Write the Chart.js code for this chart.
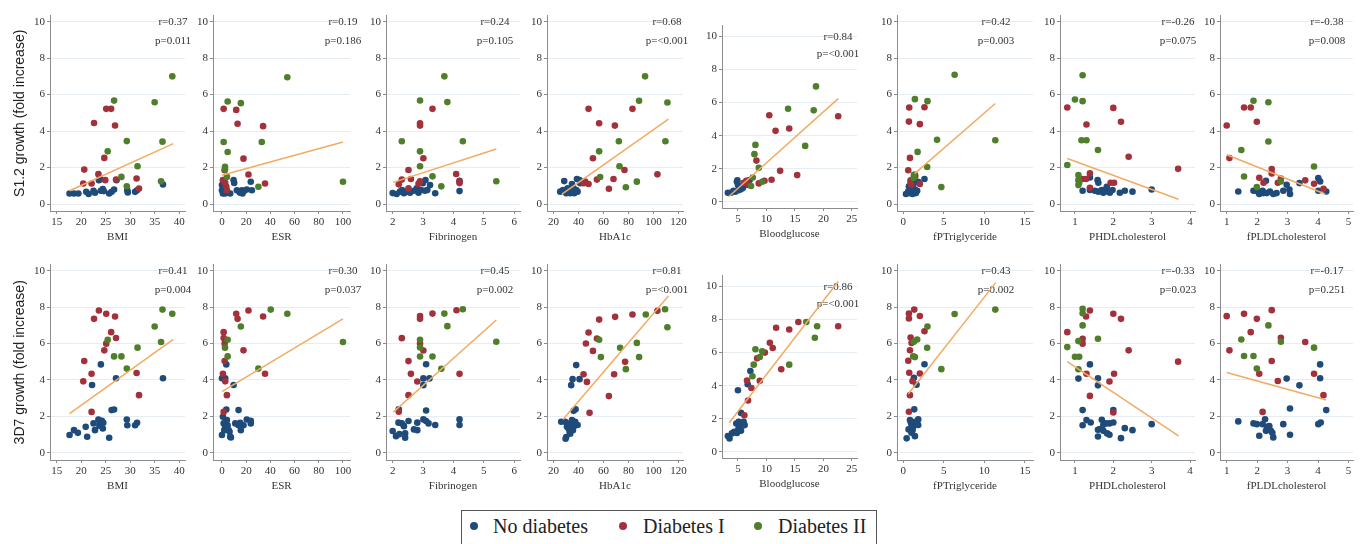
<!DOCTYPE html>
<html>
<head>
<meta charset="utf-8">
<script src="https://cdn.jsdelivr.net/npm/chart.js@4.4.0/dist/chart.umd.min.js"></script>
<style>
  body { margin: 0; background: #fff; width: 1361px; height: 544px; position: relative; overflow: hidden; }
  canvas { position: absolute; }
  #legend { position: absolute; left: 461px; top: 510px; width: 416px; height: 44px; border: 1px solid #555; box-sizing: border-box; }
  #legend .dot { position: absolute; top: 11px; width: 8px; height: 8px; border-radius: 50%; }
  #legend .lbl { position: absolute; top: 0; line-height: 30px; font-family: "Liberation Serif", serif; font-size: 20px; color: #222; white-space: nowrap; }
</style>
</head>
<body>
<div id="legend"></div>
<script>
const groups = ['No diabetes', 'Diabetes I', 'Diabetes II'];
const groupColors = ['#1f4b7a', '#a3313c', '#4f7f2a'];
const variables = ['BMI', 'ESR', 'Fibrinogen', 'HbA1c', 'Bloodglucose', 'fPTriglyceride', 'PHDLcholesterol', 'fPLDLcholesterol'];
const rowTitles = ['S1.2 growth (fold increase)', '3D7 growth (fold increase)'];
const yTicks = [0, 2, 4, 6, 8, 10];
const xTicks = [
  [15, 20, 25, 30, 35, 40],
  [0, 20, 40, 60, 80, 100],
  [2, 3, 4, 5, 6],
  [20, 40, 60, 80, 100, 120],
  [5, 10, 15, 20, 25],
  [0, 5, 10, 15],
  [1, 2, 3, 4],
  [1, 2, 3, 4, 5]
];

// S1.2 growth, each panel: [no diabetes, diabetes I, diabetes II] as [x, y]
const s12BMI = [
  [[17.6,0.58],[18.5,0.58],[19.4,0.58],[21.0,0.67],[21.5,0.55],[22.5,0.73],[22.8,0.62],[23.6,1.31],[23.9,1.36],[24.0,0.73],[24.4,0.82],[24.6,0.71],[25.7,0.58],[26.2,0.67],[26.7,0.8],[27.2,1.31],[29.4,0.76],[29.5,0.64],[31.0,0.67],[31.4,0.76],[36.7,1.07]],
  [[25.1,5.22],[26.1,5.22],[22.6,4.44],[26.9,4.31],[24.7,2.53],[20.6,1.89],[23.5,1.64],[24.9,1.31],[27.1,1.35],[20.4,1.13],[22.1,1.13],[31.3,1.4],[31.8,0.85]],
  [[38.6,7.0],[26.7,5.67],[35.0,5.58],[29.3,3.45],[36.6,3.42],[25.4,2.89],[31.5,2.07],[28.2,1.49],[29.3,0.98],[36.3,1.25]]
];
const s12ESR = [
  [[0,1.04],[0.8,0.58],[2.7,0.58],[4.7,0.62],[6.8,0.58],[9.6,1.31],[10.1,1.16],[12.3,0.76],[14.5,0.67],[16.4,0.76],[18.4,0.73],[20.5,0.8],[24.7,0.76],[23.8,1.22],[0,0.76],[1.4,0.95],[15,0.62],[17,0.58]],
  [[1.4,5.22],[11.8,5.16],[12.9,4.4],[34,4.27],[17.8,2.49],[2.2,1.85],[21.9,1.62],[0.8,1.31],[2.7,1.16],[3.6,0.95],[35.6,1.13],[4.1,0.76]],
  [[54,6.95],[4.7,5.62],[15.6,5.53],[1.4,3.4],[32.9,3.4],[4.7,2.85],[2.5,2.04],[4.1,1.49],[30.1,0.95],[100,1.22],[2.5,1.9]]
];
const s12Fib = [
  [[2.0,0.6],[2.13,0.55],[2.24,0.68],[2.37,0.59],[2.46,0.68],[2.7,0.73],[2.85,0.62],[2.93,0.77],[2.99,1.14],[3.08,1.32],[3.14,0.77],[3.23,1.04],[3.4,0.59],[4.2,1.28],[4.2,0.71],[2.79,0.86],[2.57,0.62],[2.31,0.77],[3.06,0.73]],
  [[3.31,5.22],[2.9,4.43],[2.9,4.3],[3.01,2.51],[2.52,1.87],[2.3,1.34],[2.6,1.37],[2.85,1.12],[2.9,1.25],[2.2,1.08],[4.09,1.65],[4.2,1.15],[4.2,1.23],[2.52,0.86]],
  [[3.7,7.0],[3.8,5.59],[2.9,5.68],[2.3,3.44],[4.31,3.44],[2.9,2.89],[2.9,2.07],[3.31,1.52],[3.6,0.97],[5.41,1.25]]
];
const s12HbA1c = [
  [[25.3,0.68],[28.5,1.26],[30.1,0.59],[32.8,0.77],[34.7,1.1],[36.5,0.59],[38.1,0.77],[38.7,1.37],[40.8,1.32],[33.3,0.59],[36,0.86],[39.2,0.68],[31.2,0.86],[41.3,1.14],[27.5,0.77]],
  [[48,5.22],[56.5,4.43],[69.1,4.3],[83.2,5.22],[51.5,2.51],[76.8,1.87],[103.2,1.63],[54.7,1.34],[68,1.37],[64.3,0.84],[45.3,1.23],[48,1.1],[44,1.14]],
  [[93.3,7.0],[88.5,5.66],[111.2,5.57],[72.3,3.44],[109.6,3.44],[56.5,2.89],[72.8,2.07],[57.3,1.48],[86.7,1.23],[77.9,0.92]]
];
const s12Glucose = [
  [[3.23,0.54],[3.76,0.54],[4.23,0.66],[4.82,1.21],[5.0,1.01],[5.41,0.74],[5.88,0.85],[6.3,1.01],[6.71,1.25],[7.06,1.31],[4.53,0.6],[5.1,0.7],[5.7,0.8],[6.1,1.1],[4.9,1.3]],
  [[10.5,5.23],[22.6,5.17],[14.0,4.43],[11.6,4.29],[8.24,2.49],[12.4,1.87],[15.4,1.61],[10.9,1.33],[9.66,1.27],[8.66,1.11],[6.47,1.27],[6.89,1.01],[6.0,1.15]],
  [[18.7,6.98],[18.3,5.53],[13.8,5.63],[16.8,3.38],[8.07,3.44],[7.89,2.88],[8.66,2.05],[9.25,1.21],[7.6,1.47],[7.3,0.95]]
];
const s12TG = [
  [[0.33,0.55],[0.61,0.7],[0.82,0.6],[1.0,0.88],[1.14,0.55],[1.3,0.7],[1.55,0.6],[1.71,0.73],[1.88,1.21],[2.61,1.37],[0.69,0.97],[1.22,1.06],[1.63,1.23],[0.94,1.25],[1.43,0.79]],
  [[0.73,5.29],[2.61,5.31],[0.69,4.52],[2.04,4.38],[0.82,2.53],[0.61,1.85],[2.04,1.1],[1.43,1.61],[0.9,1.15],[0.9,1.3],[1.0,1.06],[1.47,1.54]],
  [[6.33,7.09],[1.43,5.75],[2.98,5.64],[4.16,3.52],[11.35,3.5],[1.76,2.86],[2.94,2.03],[4.69,0.93],[1.27,1.43],[1.3,1.6]]
];
const s12HDL = [
  [[1.2,0.73],[1.39,0.77],[1.39,1.46],[1.59,1.31],[1.61,1.17],[1.61,0.68],[1.7,0.77],[1.74,0.62],[1.81,0.8],[1.87,0.68],[1.91,0.62],[1.98,0.77],[2.17,0.62],[2.3,0.73],[2.5,0.68],[3.0,0.8],[1.52,0.73],[1.83,0.95]],
  [[0.8,5.29],[2.0,5.27],[2.2,4.51],[1.3,4.36],[2.4,2.59],[3.69,1.93],[1.39,1.68],[1.2,1.37],[1.29,1.37],[1.93,1.17],[2.02,1.17],[1.39,0.89]],
  [[1.2,7.06],[1.0,5.73],[1.2,5.64],[1.17,3.5],[1.3,3.5],[1.6,2.96],[0.8,2.14],[1.09,1.59],[1.09,1.31],[1.09,1.04],[1.11,1.17]]
];
const s12LDL = [
  [[1.38,0.69],[1.88,0.73],[2.07,0.55],[2.18,0.73],[2.29,1.28],[2.32,0.6],[2.42,0.69],[2.53,0.55],[2.64,0.6],[2.86,0.73],[2.97,1.06],[3.06,0.8],[3.08,0.55],[3.39,1.15],[4.01,1.42],[4.07,1.24],[4.01,0.73],[4.27,0.69],[2.2,0.6],[2.0,0.7]],
  [[1.0,4.31],[1.09,2.52],[1.57,5.29],[1.79,5.29],[1.99,4.51],[2.48,1.92],[2.48,1.68],[2.07,1.44],[2.78,1.4],[2.21,1.17],[2.68,1.17],[3.58,1.3],[3.87,1.11],[4.18,0.84]],
  [[1.88,5.66],[2.37,5.58],[2.37,3.43],[1.48,2.96],[1.57,1.51],[1.99,0.93],[2.78,1.24],[3.87,2.06]]
];

// 3D7 growth
const d37BMI = [
  [[24.0,4.85],[27.1,4.09],[36.7,4.09],[22.2,3.72],[17.6,0.97],[18.5,1.24],[19.3,1.09],[20.9,1.42],[21.2,0.88],[22.5,1.61],[22.8,1.24],[23.5,1.82],[23.8,1.61],[24.2,1.75],[24.4,1.33],[24.5,1.64],[25.7,0.82],[26.2,2.34],[26.7,2.37],[29.3,1.82],[29.4,1.51],[31.0,1.51],[31.4,1.64],[23.7,1.48]],
  [[23.6,7.81],[25.1,7.63],[22.6,7.35],[26.9,7.48],[26.1,6.62],[27.1,6.3],[25.1,5.99],[24.7,5.62],[20.6,5.04],[22.1,4.34],[31.3,4.38],[20.4,3.92],[31.8,3.16],[22.1,2.24]],
  [[36.6,7.86],[38.6,7.63],[35.0,6.93],[36.3,6.08],[25.4,6.2],[31.5,5.77],[26.7,5.29],[28.2,5.29],[29.3,4.62]]
];
const d37ESR = [
  [[3.6,4.85],[0,4.09],[2.7,4.09],[9.6,3.72],[13.7,2.34],[3.6,2.37],[0,0.97],[1.4,1.61],[1.9,1.24],[2.7,1.42],[4.1,1.79],[4.7,1.51],[6.3,1.15],[6.8,0.88],[7.4,0.84],[11,1.61],[13.7,1.51],[15.1,1.64],[15.6,1.24],[17.8,1.51],[20.5,1.82],[23.8,1.75],[23.8,1.61],[0.8,1.97],[5.5,1.24]],
  [[11.8,7.63],[12.9,7.35],[21.9,7.81],[34,7.48],[1.4,6.62],[1.4,6.3],[2.2,5.99],[17.8,5.62],[2.2,5.04],[0.8,4.34],[35.6,4.34],[2.7,3.92],[4.1,3.16],[1.4,2.24]],
  [[40.3,7.86],[54,7.63],[15.6,6.93],[100,6.08],[4.7,6.2],[2.5,5.77],[4.7,5.29],[30.1,4.62]]
];
const d37Fib = [
  [[3.1,4.86],[3.01,4.08],[3.21,4.08],[3.01,3.71],[3.1,2.32],[2.2,2.38],[2.0,1.19],[2.11,0.91],[2.22,1.02],[2.19,1.65],[2.3,1.61],[2.37,1.46],[2.41,1.06],[2.41,0.82],[2.52,1.74],[2.7,1.28],[2.81,1.24],[2.81,1.65],[3.01,1.83],[3.1,1.74],[3.18,1.61],[3.4,1.52],[4.2,1.83],[4.2,1.52]],
  [[4.1,7.82],[3.31,7.64],[2.9,7.51],[2.9,7.35],[2.3,6.29],[2.9,5.99],[3.01,5.61],[2.52,5.03],[2.6,4.33],[4.2,4.33],[2.81,3.91],[2.52,3.16],[2.2,2.25]],
  [[4.31,7.88],[3.7,7.64],[3.8,6.95],[5.41,6.09],[2.9,6.2],[2.9,5.78],[2.9,5.28],[3.31,5.28],[3.6,4.61]]
];
const d37HbA1c = [
  [[38.1,4.81],[35.2,4.04],[40.8,4.04],[34.1,3.71],[36.0,2.3],[37.6,2.38],[26.1,1.7],[29.3,1.7],[30.7,1.43],[32.8,1.15],[33.3,1.61],[34.7,1.79],[36,1.43],[37.3,1.7],[39.2,1.52],[30.1,0.86],[29.6,0.77],[33.3,1.04],[35.5,1.24],[32,1.33]],
  [[103.2,7.79],[83.2,7.59],[69.3,7.46],[56.5,7.31],[48.0,6.6],[54.7,6.27],[45.9,6.0],[51.5,5.59],[44.0,4.31],[68.5,4.31],[46.7,3.89],[77.3,4.99],[64.3,3.11],[48.8,2.19]],
  [[109.3,7.88],[93.9,7.59],[111.2,6.89],[86.7,6.03],[56.5,6.2],[73.3,5.76],[57.9,5.25],[88.5,5.25],[77.9,4.59]]
];
const d37Glucose = [
  [[7.18,4.89],[6.71,4.08],[5.0,3.72],[5.53,2.35],[3.23,0.95],[3.52,0.8],[3.94,1.11],[4.35,1.21],[4.71,1.71],[5.12,1.81],[5.41,1.61],[5.29,1.37],[5.71,1.57],[6.0,1.81],[6.18,1.61],[4.82,1.13],[5.53,1.27],[5.1,1.4]],
  [[15.6,7.85],[14.0,7.4],[11.7,7.5],[22.6,7.59],[10.6,6.6],[11.1,6.28],[9.72,6.0],[8.36,5.65],[12.6,4.99],[6.59,4.31],[8.83,4.29],[7.36,3.86],[6.77,3.1],[6.12,2.21]],
  [[17.0,7.85],[18.9,7.59],[18.5,6.9],[8.07,6.2],[9.25,6.08],[8.83,5.73],[7.77,5.27],[14.0,5.27],[7.54,4.57]]
];
const d37TG = [
  [[2.61,4.86],[1.31,4.11],[1.63,3.73],[1.35,2.38],[0.41,0.79],[0.65,1.28],[0.82,1.79],[1.0,1.57],[1.0,1.1],[1.22,1.43],[1.43,0.91],[1.63,1.7],[1.84,1.52],[1.84,1.83],[0.9,1.7],[1.14,1.24],[1.47,1.7]],
  [[1.35,7.86],[0.69,7.64],[2.04,7.51],[0.69,7.37],[2.61,6.67],[0.9,6.33],[1.02,6.03],[0.82,5.63],[0.61,5.05],[0.73,4.39],[2.04,4.35],[1.14,3.93],[0.82,3.16],[0.69,2.25]],
  [[11.35,7.86],[6.33,7.62],[2.98,6.93],[1.71,6.22],[1.31,6.09],[2.94,5.76],[1.22,5.3],[1.43,5.25],[4.69,4.59]]
];
const d37HDL = [
  [[1.39,4.85],[1.09,4.07],[1.6,4.09],[1.6,3.7],[1.2,2.34],[2.0,2.34],[1.2,1.51],[1.3,1.79],[1.41,1.66],[1.6,1.26],[1.6,0.89],[1.7,1.81],[1.74,1.53],[1.74,1.2],[1.81,1.61],[1.84,1.06],[1.9,0.99],[1.9,1.61],[2.0,1.66],[2.2,0.8],[2.3,1.35],[2.5,1.24],[3.0,1.57],[1.65,1.3]],
  [[1.39,7.81],[1.29,7.48],[2.0,7.63],[2.2,7.35],[0.8,6.62],[1.2,6.26],[1.2,5.99],[2.4,5.62],[3.69,5.0],[1.3,4.34],[2.02,4.34],[1.9,3.91],[1.39,3.12],[2.0,2.21]],
  [[1.2,7.9],[1.2,7.66],[1.2,6.99],[0.8,5.8],[1.09,6.13],[1.6,6.26],[1.0,5.27],[1.11,5.27],[1.09,4.58]]
];
const d37LDL = [
  [[4.07,4.85],[2.97,4.07],[4.07,4.09],[3.39,3.7],[3.08,2.43],[4.27,2.34],[1.38,1.72],[1.88,1.61],[1.99,1.57],[2.07,0.93],[2.18,1.57],[2.26,1.84],[2.29,1.2],[2.32,1.42],[2.4,1.46],[2.45,1.2],[2.53,0.84],[2.86,1.57],[3.08,0.99],[4.01,1.57],[4.09,1.66],[2.5,1.1]],
  [[1.0,7.5],[1.57,7.63],[1.99,7.35],[2.48,7.83],[1.79,6.62],[2.78,6.31],[1.09,5.62],[3.58,6.08],[2.48,5.04],[2.07,4.34],[3.87,4.34],[2.68,3.94],[4.18,3.16],[2.18,2.24]],
  [[2.37,6.99],[1.48,6.22],[1.57,5.31],[1.88,5.31],[1.99,4.62],[2.78,6.09],[3.87,5.77]]
];

// fitted lines: [x0, y0, x1, y1]
const s12Fit = [[17.6,0.73,38.8,3.31],[0,1.58,100,3.4],[2.02,1.19,5.41,3.02],[26.7,0.55,112,4.65],[3.35,0.3,22.6,6.24],[1.39,1.67,11.35,5.51],[0.8,2.5,3.7,0.26],[1.0,2.7,4.23,0.55]];
const d37Fit = [[17.6,2.15,38.8,6.22],[0,3.36,100,7.35],[2.02,2.23,5.41,7.29],[27.5,1.83,112,8.6],[3.47,1.75,22.6,10.3],[0.61,3.22,11.4,9.34],[0.8,5.0,3.7,0.93],[1.0,4.4,4.27,2.9]];
const s12R = ['0.37', '0.19', '0.24', '0.68', '0.84', '0.42', '-0.26', '-0.38'];
const s12P = ['0.011', '0.186', '0.105', '<0.001', '<0.001', '0.003', '0.075', '0.008'];
const d37R = ['0.41', '0.30', '0.45', '0.81', '0.86', '0.43', '-0.33', '-0.17'];
const d37P = ['0.004', '0.037', '0.002', '<0.001', '<0.001', '0.002', '0.023', '0.251'];

const rows = [
  { pts: [s12BMI, s12ESR, s12Fib, s12HbA1c, s12Glucose, s12TG, s12HDL, s12LDL], fit: s12Fit, r: s12R, p: s12P },
  { pts: [d37BMI, d37ESR, d37Fib, d37HbA1c, d37Glucose, d37TG, d37HDL, d37LDL], fit: d37Fit, r: d37R, p: d37P }
];

// layout (page pixels) and axis ranges
const colLeft = [50, 213, 386, 547, 722, 897, 1060, 1220];
const colRight = [185, 350, 520, 683, 857, 1033, 1195, 1353];
const xMin = [13.6, -7.4, 1.78, 14.7, 2.2, -0.78, 0.61, 0.78];
const xMax = [41.2, 105.8, 6.19, 123.7, 25.9, 16.0, 4.13, 5.15];
const statOffset = [12, 7, 25, 16, 19, 37, 17, 26];
const rowTop = [15, 264], rowBottom = [211, 460];
const glucoseTop = [25, 275], glucoseBottom = [208, 458];

const axisGrey = '#8c8c8c';
const serif = 'Liberation Serif';

const statsPlugin = {
  id: 'stats',
  beforeDatasetsDraw(chart, args, opts) {
    const { ctx, chartArea, scales: { y } } = chart;
    const cx = chartArea.right - opts.offset;
    ctx.save();
    ctx.font = '11px "Liberation Serif"';
    ctx.fillStyle = '#333';
    ctx.textAlign = 'center';
    ctx.textBaseline = 'middle';
    ctx.fillText('r=' + opts.r, cx, y.getPixelForValue(9.95));
    ctx.fillText('p=' + opts.p, cx, y.getPixelForValue(8.95));
    ctx.restore();
  }
};

function makePanel(row, col) {
  const isGlucose = col === 4;
  const first = col === 0;
  const L = colLeft[col], R = colRight[col];
  const T = isGlucose ? glucoseTop[row] : rowTop[row];
  const B = isGlucose ? glucoseBottom[row] : rowBottom[row];
  const yMin = isGlucose ? -0.38 : (row === 0 ? -0.38 : -0.4);
  const yMax = isGlucose ? 10.66 : 10.33;
  const padL = first ? 12 : 0, yW = first ? 38 : 30, padT = 8, padR = 14, xH = 33;

  const canvas = document.createElement('canvas');
  canvas.width = padL + yW + (R - L) + padR;
  canvas.height = padT + (B - T) + xH;
  canvas.style.left = (L - yW - padL) + 'px';
  canvas.style.top = (T - padT) + 'px';
  document.body.appendChild(canvas);

  const panel = rows[row].pts[col];
  const fit = rows[row].fit[col];
  const datasets = groups.map((g, gi) => ({
    label: g,
    data: panel[gi].map(d => ({ x: d[0], y: d[1] })),
    backgroundColor: groupColors[gi],
    borderWidth: 0,
    pointRadius: 3.3,
    order: 3 - gi
  }));
  datasets.push({
    label: 'fit',
    data: [{ x: fit[0], y: fit[1] }, { x: fit[2], y: fit[3] }],
    showLine: true,
    borderColor: '#f2ab62',
    borderWidth: 1.5,
    pointRadius: 0,
    order: 0
  });

  const tickFont = { family: serif, size: 11 };
  new Chart(canvas, {
    type: 'scatter',
    data: { datasets },
    options: {
      responsive: false,
      animation: false,
      devicePixelRatio: 1,
      layout: { padding: { left: padL, top: padT, right: padR, bottom: 0 } },
      plugins: {
        legend: { display: false },
        tooltip: { enabled: false },
        stats: { r: rows[row].r[col], p: rows[row].p[col], offset: statOffset[col] }
      },
      scales: {
        x: {
          type: 'linear', min: xMin[col], max: xMax[col],
          afterBuildTicks: s => { s.ticks = xTicks[col].map(v => ({ value: v })); },
          afterFit: s => { s.height = xH; },
          grid: { drawOnChartArea: false, drawTicks: true, tickLength: 3, tickColor: axisGrey },
          border: { color: axisGrey },
          ticks: { font: tickFont, color: '#333', padding: 2, maxRotation: 0, autoSkip: false },
          title: { display: true, text: variables[col], font: tickFont, color: '#333', padding: 0 }
        },
        y: {
          type: 'linear', min: yMin, max: yMax,
          afterBuildTicks: s => { s.ticks = yTicks.map(v => ({ value: v })); },
          afterFit: s => { s.width = yW; },
          grid: { color: '#e5edf3', tickColor: axisGrey, tickLength: 3 },
          border: { color: axisGrey },
          ticks: { font: tickFont, color: '#333', padding: 2, autoSkip: false },
          title: { display: first, text: rowTitles[row], font: { family: 'Liberation Sans', size: 14 }, color: '#222', padding: 0 }
        }
      }
    },
    plugins: [statsPlugin]
  });
}

for (let row = 0; row < 2; row++) {
  for (let col = 0; col < variables.length; col++) makePanel(row, col);
}

// legend
const legendDot = [8, 157, 292];
const legendText = [31, 181, 316];
const legend = document.getElementById('legend');
groups.forEach((g, i) => {
  const dot = document.createElement('span');
  dot.className = 'dot';
  dot.style.left = legendDot[i] + 'px';
  dot.style.background = groupColors[i];
  legend.appendChild(dot);
  const lbl = document.createElement('span');
  lbl.className = 'lbl';
  lbl.style.left = legendText[i] + 'px';
  lbl.textContent = g;
  legend.appendChild(lbl);
});
</script>
</body>
</html>
